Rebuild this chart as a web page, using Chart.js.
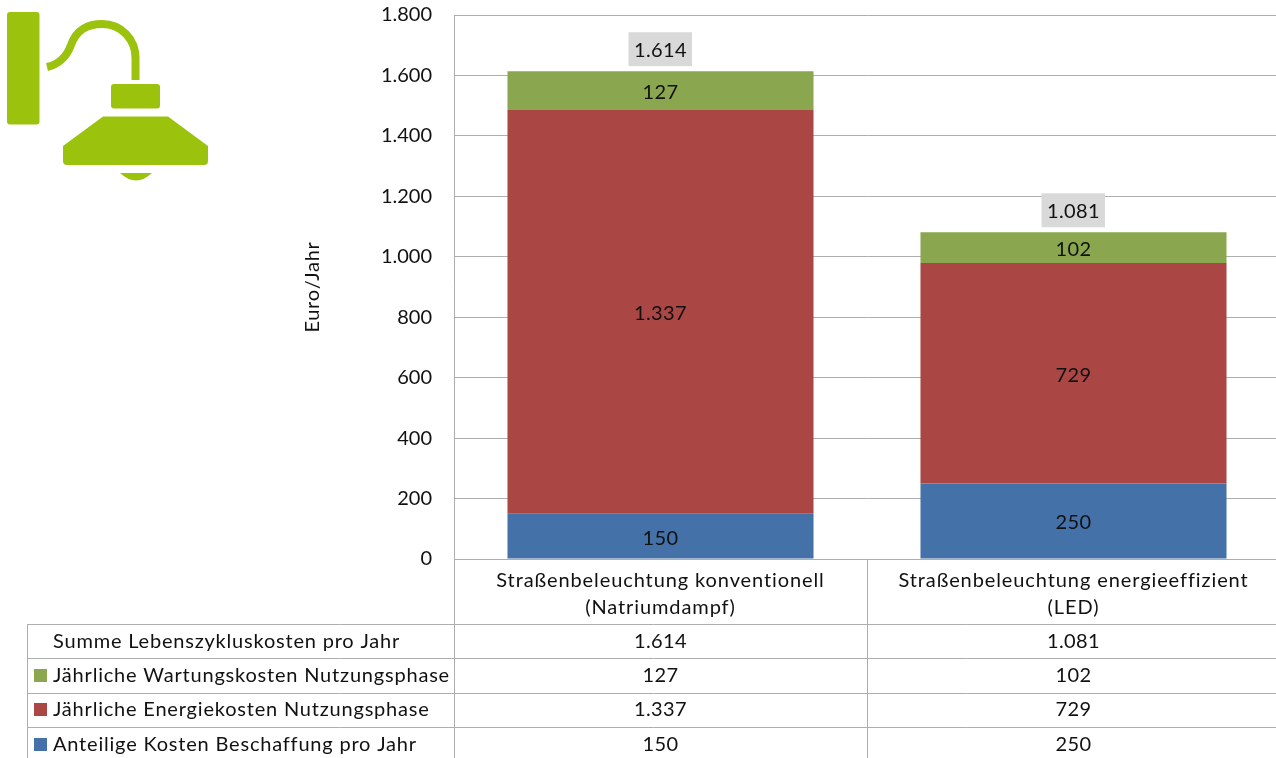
<!DOCTYPE html>
<html><head><meta charset="utf-8">
<style>
html,body{margin:0;padding:0;background:#fff;overflow:hidden;width:1276px;height:758px}
#wrap{position:absolute;left:0;top:0;width:1280px;height:758px}
#icon{position:absolute;left:0;top:0}
</style>
<script src="https://cdn.jsdelivr.net/npm/chart.js@4"></script>
</head><body>
<div id="wrap"><canvas id="c" width="1280" height="758"></canvas></div>
<svg id="icon" width="220" height="190" fill="#9bc20d">
<rect x="7" y="12" width="32.5" height="112.5" rx="3"/>
<path d="M47,67 C60,64 67,56 71,45 C76,30 88,24 102,24 C122,24 135.500,40 135.500,58 L135.500,80" fill="none" stroke="#9bc20d" stroke-width="8"/>
<rect x="111" y="84" width="49" height="24.500" rx="3"/>
<path d="M103,116.500 H168 L208,146 V161 Q208,165 204,165 H67 Q63,165 63,161 V146 Z"/>
<path d="M120,173 H152 Q136,188 120,173 Z"/>
</svg>
<script>
const categories=[["Straßenbeleuchtung konventionell","(Natriumdampf)"],["Straßenbeleuchtung energieeffizient","(LED)"]];
const procurement=[150,250];
const energy=[1337,729];
const maintenance=[127,102];
const totals=[1614,1081];
const rowNames=["Summe Lebenszykluskosten pro Jahr","Jährliche Wartungskosten Nutzungsphase","Jährliche Energiekosten Nutzungsphase","Anteilige Kosten Beschaffung pro Jahr"];
const yTicks=[0,200,400,600,800,1000,1200,1400,1600,1800];
const COLORS={blue:"#4472a8",red:"#aa4644",green:"#8aa64f"};
const FONT='Lato';
const fs=20, TXT="#111111", LINE="#aeaeae";
const fmt=v=>String(v).replace(/\B(?=(\d{3})+$)/g,".");
const ROWS=[624,658,693,727];
const ROW_TEXT=[642,676,710,745];

const overlay={id:"overlay",
 afterDatasetsDraw(chart){
  const ctx=chart.ctx,x=chart.scales.x;
  ctx.save();
  ctx.font=fs+"px "+FONT;ctx.textAlign="center";ctx.textBaseline="middle";
  ctx.letterSpacing="0.4px";
  chart.data.datasets.forEach((ds,i)=>{
    const m=chart.getDatasetMeta(i);
    if(ds.type==="line"){
      m.data.forEach((p,j)=>{
        ctx.fillStyle="#d9d9d9";ctx.fillRect(p.x-32,p.y-39,63.5,34);
        ctx.fillStyle=TXT;ctx.fillText(fmt(ds.data[j]),p.x,p.y-21);
      });
    } else {
      m.data.forEach((b,j)=>{
        ctx.fillStyle=TXT;ctx.fillText(fmt(ds.data[j]),b.x,(b.y+b.base)/2+2);
      });
    }
  });
  const left=27,a=chart.chartArea.left,mid=(x.getPixelForValue(0)+x.getPixelForValue(1))/2,right=chart.chartArea.right;
  ctx.strokeStyle=LINE;ctx.lineWidth=1;ctx.beginPath();
  [a,mid].forEach(v=>{ctx.moveTo(Math.round(v)+.5,559);ctx.lineTo(Math.round(v)+.5,758);});
  ctx.moveTo(left+.5,624);ctx.lineTo(left+.5,758);
  ROWS.forEach(r=>{ctx.moveTo(left,r+.5);ctx.lineTo(right,r+.5);});
  ctx.stroke();
  const cols=[totals,maintenance,energy,procurement];
  const swatches=[null,COLORS.green,COLORS.red,COLORS.blue];
  rowNames.forEach((n,r)=>{
    const cy=ROW_TEXT[r];
    ctx.textAlign="left";ctx.fillStyle=TXT;ctx.letterSpacing="0.8px";ctx.fillText(n,53,cy);ctx.letterSpacing="0.4px";
    if(swatches[r]){ctx.fillStyle=swatches[r];ctx.fillRect(34,cy-7,13,13);}
    ctx.textAlign="center";ctx.fillStyle=TXT;
    cols[r].forEach((v,j)=>ctx.fillText(fmt(v),x.getPixelForValue(j),cy));
  });
  ctx.letterSpacing="0px";
  ctx.restore();
 }};

function spaced(scale,method,px){
  const original=scale[method];
  if(original.__spaced)return;
  const wrapped=function(a){this.ctx.letterSpacing=px;original.call(this,a);this.ctx.letterSpacing="0px";};
  wrapped.__spaced=true;scale[method]=wrapped;
}

new Chart(document.getElementById("c"),{
 data:{labels:categories,datasets:[
  {type:"bar",label:"Anteilige Kosten Beschaffung pro Jahr",data:procurement,backgroundColor:COLORS.blue,stack:"s"},
  {type:"bar",label:"Jährliche Energiekosten Nutzungsphase",data:energy,backgroundColor:COLORS.red,stack:"s"},
  {type:"bar",label:"Jährliche Wartungskosten Nutzungsphase",data:maintenance,backgroundColor:COLORS.green,stack:"s"},
  {type:"line",label:"Summe Lebenszykluskosten pro Jahr",data:totals,showLine:false,pointRadius:0}
 ]},
 options:{responsive:false,animation:false,
  layout:{autoPadding:false,padding:{top:15,right:0,bottom:133,left:0}},
  plugins:{legend:{display:false},tooltip:{enabled:false}},
  datasets:{bar:{categoryPercentage:1,barPercentage:.741}},
  scales:{
   x:{stacked:true,grid:{display:false},border:{display:false},
      ticks:{color:TXT,font:{family:FONT,size:fs,lineHeight:1.35},maxRotation:0,minRotation:0,autoSkip:false,padding:0},
      afterFit(s){s.height=66;s.paddingLeft=0;s.paddingRight=0;spaced(s,"drawLabels","0.9px");}},
   y:{stacked:true,min:0,max:1800,
      afterBuildTicks(s){s.ticks=yTicks.map(v=>({value:v}));},
      afterFit(s){s.width=454;s.paddingTop=0;s.paddingBottom=0;spaced(s,"drawTitle","0.7px");},
      grid:{color:LINE,lineWidth:1,drawTicks:false},
      border:{color:LINE},
      ticks:{color:TXT,font:{family:FONT,size:fs},padding:22,callback:v=>fmt(v)},
      title:{display:true,text:"Euro/Jahr",color:TXT,font:{family:FONT,size:fs},padding:{top:301,bottom:0}}}
  }},
 plugins:[overlay]});
</script>
</body></html>
